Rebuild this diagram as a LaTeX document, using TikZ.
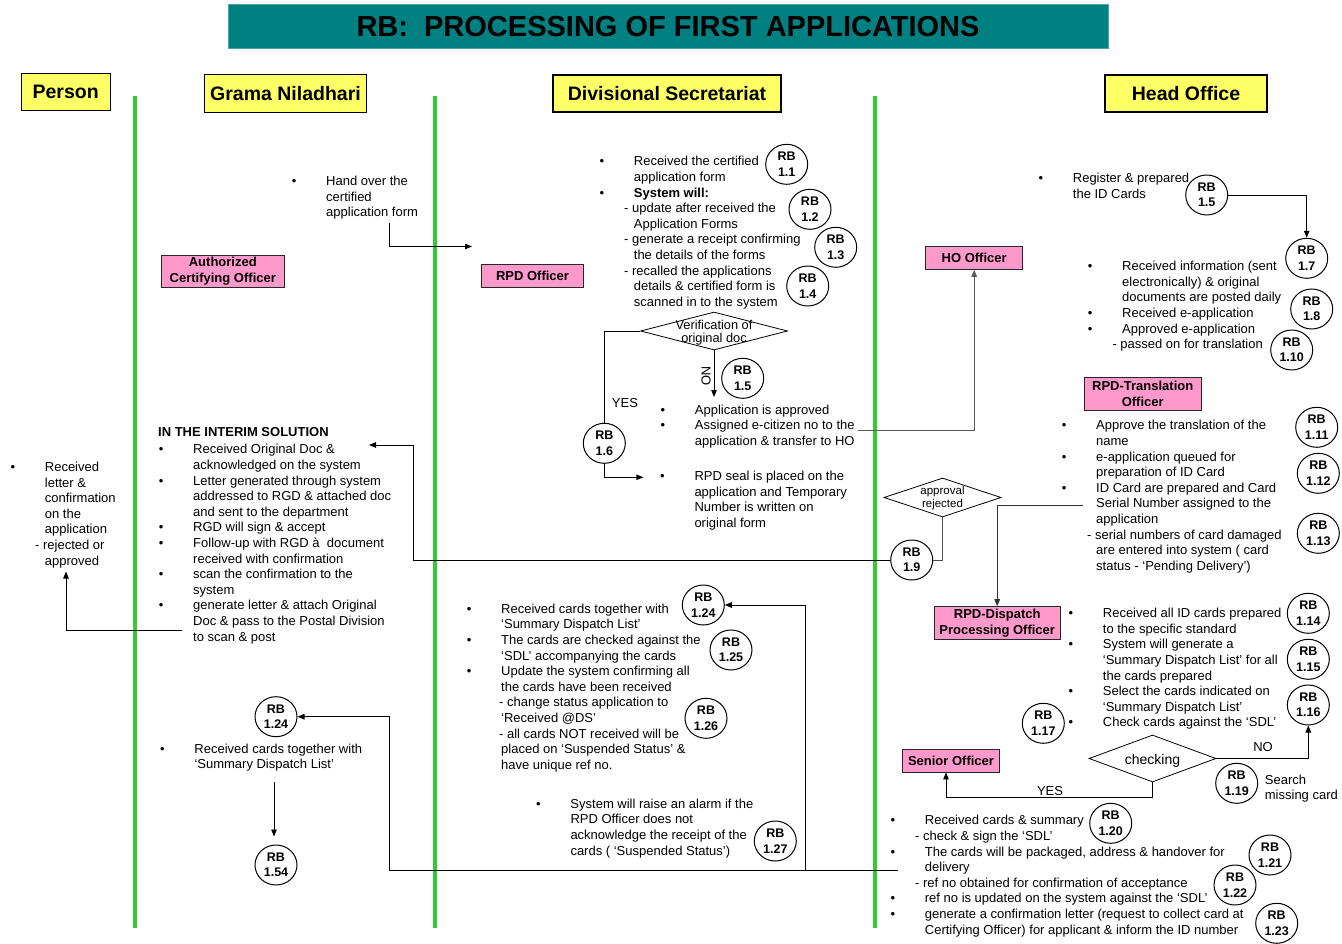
\documentclass[tikz,border=0pt]{standalone}
\usepackage{fontspec}
\setmainfont{Liberation Sans}
\usetikzlibrary{arrows.meta,shapes.geometric}

\definecolor{titleteal}{RGB}{0,128,128}
\definecolor{hdryellow}{RGB}{255,255,102}
\definecolor{rolepink}{RGB}{255,153,204}
\definecolor{lanegreen}{RGB}{51,204,51}

% bullet line, continuation line, dash line
\newcommand{\bpt}[1]{\makebox[34.3pt][l]{\textbullet}#1}
\newcommand{\bcont}[1]{\hspace*{34.3pt}#1}
\newcommand{\bdash}[2][24.6]{\hspace*{#1pt}#2}

\begin{document}
\begin{tikzpicture}[x=1pt,y=-1pt,
  lane/.style={draw=lanegreen, line width=3.3pt},
  hdr/.style={draw=black, line width=1.1pt, fill=hdryellow, inner sep=0pt,
    font=\fontsize{19.5}{22}\selectfont\bfseries},
  role/.style={draw=black!85, line width=0.9pt, fill=rolepink, inner sep=0pt,
    align=center, font=\fontsize{13}{15.7}\selectfont\bfseries},
  rb/.style={ellipse, draw=black, line width=1pt, minimum width=42pt,
    minimum height=40pt, inner sep=0pt, align=center,
    font=\fontsize{12.5}{15.5}\selectfont\bfseries},
  txt/.style={anchor=north west, align=left, inner sep=0pt,
    font=\fontsize{13}{15.6}\selectfont},
  dec/.style={diamond, draw=black, line width=0.8pt, inner sep=0pt},
  lbl/.style={inner sep=0pt, font=\fontsize{13}{15.6}\selectfont},
  ln/.style={draw=black, line width=0.9pt},
  arr/.style={ln, -{Triangle[length=7pt,width=5.5pt]}}
]
\useasboundingbox (0,0) rectangle (1342,944);

% swim lanes
\draw[lane] (135,96) -- (135,928);
\draw[lane] (435,96) -- (435,928);
\draw[lane] (875,96) -- (875,928);

% title and lane headers
\node[fill=titleteal, draw=titleteal!70!white, line width=1pt,
  minimum width=880pt, minimum height=44pt, inner sep=0pt,
  font=\fontsize{29}{32}\selectfont\bfseries, text=black]
  (title) at (668,27) {RB:\ \ PROCESSING OF FIRST APPLICATIONS};
\node[hdr, minimum width=88.7pt, minimum height=37pt] (hperson) at (65.7,92.2) {Person};
\node[hdr, minimum width=162.4pt, minimum height=37.7pt] (hgn) at (285.5,93.8) {Grama Niladhari};
\node[hdr, minimum width=228pt, minimum height=37pt] (hds) at (667,93.5) {Divisional Secretariat};
\node[hdr, minimum width=162pt, minimum height=37pt] (hho) at (1186,93.5) {Head Office};

% roles
\node[role, minimum width=123pt, minimum height=32.4pt] (aco) at (222.8,271.5) {Authorized\\Certifying Officer};
\node[role, minimum width=102pt, minimum height=23pt] (rpdo) at (532.5,276.2) {RPD Officer};
\node[role, minimum width=97pt, minimum height=23.3pt] (hoofc) at (974.2,257.7) {HO Officer};
\node[role, minimum width=116.7pt, minimum height=32.3pt] (trans) at (1142.7,393.8) {RPD-Translation\\Officer};
\node[role, minimum width=125.7pt, minimum height=32.7pt] (disp) at (997.2,623) {RPD-Dispatch\\Processing Officer};
\node[role, minimum width=97.7pt, minimum height=23pt] (senior) at (951,760.5) {Senior Officer};

% ---------- Person ----------
\node[txt] (person) at (10.4,461.8) {\bpt{Received}\\\bcont{letter \&}\\\bcont{confirmation}\\\bcont{on the}\\\bcont{application}\\\bdash{- rejected or}\\\bcont{approved}};

% ---------- Grama Niladhari ----------
\node[txt] (handover) at (291.7,176) {\bpt{Hand over the}\\\bcont{certified}\\\bcont{application form}};
\node[txt, font=\fontsize{13}{15.6}\selectfont\bfseries] (interimhd) at (158,427.5) {IN THE INTERIM SOLUTION};
\node[txt] (interim) at (158.7,444.3) {\bpt{Received Original Doc \&}\\
  \bcont{acknowledged on the system}\\
  \bpt{Letter generated through system}\\
  \bcont{addressed to RGD \& attached doc}\\
  \bcont{and sent to the department}\\
  \bpt{RGD will sign \& accept}\\
  \bpt{Follow-up with RGD à\ \ document}\\
  \bcont{received with confirmation}\\
  \bpt{scan the confirmation to the}\\
  \bcont{system}\\
  \bpt{generate letter \& attach Original}\\
  \bcont{Doc \& pass to the Postal Division}\\
  \bcont{to scan \& post}};
\node[rb] (rb124g) at (276,716.7) {RB\\1.24};
\node[txt] (gnlower) at (160,743.7) {\bpt{Received cards together with}\\\bcont{‘Summary Dispatch List’}};
\node[rb] (rb154) at (276,865) {RB\\1.54};

% ---------- Divisional Secretariat ----------
\node[txt] (dstop) at (599.4,156.3) {\bpt{Received the certified}\\
  \bcont{application form}\\
  \bpt{\textbf{System will:}}\\
  \bdash{- update after received the}\\
  \bcont{Application Forms}\\
  \bdash{- generate a receipt confirming}\\
  \bcont{the details of the forms}\\
  \bdash{- recalled the applications}\\
  \bcont{details \& certified form is}\\
  \bcont{scanned in to the system}};
\node[rb] (rb11) at (786.7,164.3) {RB\\1.1};
\node[rb] (rb12) at (810,209.3) {RB\\1.2};
\node[rb] (rb13) at (835.7,247.3) {RB\\1.3};
\node[rb] (rb14) at (807.7,286) {RB\\1.4};

\node[dec, minimum width=147pt, minimum height=38pt] (dver) at (714,331) {};
\node[inner sep=0pt, align=center, font=\fontsize{12.8}{13.2}\selectfont] (dvertxt) at (714,332.5) {Verification of\\original doc};
\node[rb] (rb15d) at (742.7,378.3) {RB\\1.5};
\node[rb] (rb16) at (604.3,443.3) {RB\\1.6};
\node[lbl] (yes1) at (625,403) {YES};
\node[lbl, rotate=-90] (no1) at (706,376) {NO};

\node[txt] (dsapprove) at (660.4,404.7) {\bpt{Application is approved}\\\bpt{Assigned e-citizen no to the}\\\bcont{application \& transfer to HO}};
\node[txt] (dsseal) at (660,471) {\bpt{RPD seal is placed on the}\\\bcont{application and Temporary}\\\bcont{Number is written on}\\\bcont{original form}};

\node[txt] (dslower) at (466.7,603.7) {\bpt{Received cards together with}\\
  \bcont{‘Summary Dispatch List’}\\
  \bpt{The cards are checked against the}\\
  \bcont{‘SDL’ accompanying the cards}\\
  \bpt{Update the system confirming all}\\
  \bcont{the cards have been received}\\
  \bdash[32.3]{- change status application to}\\
  \bcont{‘Received @DS’}\\
  \bdash[32.3]{- all cards NOT received will be}\\
  \bcont{placed on ‘Suspended Status’ \&}\\
  \bcont{have unique ref no.}};
\node[rb] (rb124d) at (703.3,605) {RB\\1.24};
\node[rb] (rb125) at (731,650) {RB\\1.25};
\node[rb] (rb126) at (706,718.3) {RB\\1.26};
\node[txt] (alarm) at (536,798.7) {\bpt{System will raise an alarm if the}\\\bcont{RPD Officer does not}\\\bcont{acknowledge the receipt of the}\\\bcont{cards ( ‘Suspended Status’)}};
\node[rb] (rb127) at (775.3,841) {RB\\1.27};

% ---------- Head Office ----------
\node[txt] (hotop) at (1038.4,173) {\bpt{Register \& prepared}\\\bcont{the ID Cards}};
\node[rb] (rb15h) at (1206.7,195) {RB\\1.5};
\node[rb] (rb17) at (1306.7,258.3) {RB\\1.7};
\node[txt] (hoinfo) at (1087.7,261) {\bpt{Received information (sent}\\
  \bcont{electronically) \& original}\\
  \bcont{documents are posted daily}\\
  \bpt{Received e-application}\\
  \bpt{Approved e-application}\\
  \bdash{- passed on for translation}};
\node[rb] (rb18) at (1311.7,309) {RB\\1.8};
\node[rb] (rb110) at (1291.7,350) {RB\\1.10};

\node[txt] (transl) at (1061.7,420.3) {\bpt{Approve the translation of the}\\
  \bcont{name}\\
  \bpt{e-application queued for}\\
  \bcont{preparation of ID Card}\\
  \bpt{ID Card are prepared and Card}\\
  \bcont{Serial Number assigned to the}\\
  \bcont{application}\\
  \bdash[25.3]{- serial numbers of card damaged}\\
  \bcont{are entered into system ( card}\\
  \bcont{status - ‘Pending Delivery’)}};
\node[rb] (rb111) at (1316.7,427.3) {RB\\1.11};
\node[rb] (rb112) at (1318.3,473.3) {RB\\1.12};
\node[rb] (rb113) at (1318.3,533.3) {RB\\1.13};

\node[dec, minimum width=117pt, minimum height=39pt] (dapr) at (942.5,497.5) {};
\node[inner sep=0pt, align=center, font=\fontsize{11.5}{13}\selectfont] (daprtxt) at (942.5,498.5) {approval\\rejected};
\node[rb] (rb19) at (911.7,560) {RB\\1.9};

\node[txt] (dispatch) at (1068.4,608) {\bpt{Received all ID cards prepared}\\
  \bcont{to the specific standard}\\
  \bpt{System will generate a}\\
  \bcont{‘Summary Dispatch List’ for all}\\
  \bcont{the cards prepared}\\
  \bpt{Select the cards indicated on}\\
  \bcont{‘Summary Dispatch List’}\\
  \bpt{Check cards against the ‘SDL’}};
\node[rb] (rb114) at (1308.3,613.3) {RB\\1.14};
\node[rb] (rb115) at (1308.3,659.3) {RB\\1.15};
\node[rb] (rb116) at (1308.3,705) {RB\\1.16};
\node[rb] (rb117) at (1043.3,723.3) {RB\\1.17};

\node[dec, minimum width=127pt, minimum height=47pt] (dchk) at (1152.5,758.5) {};
\node[inner sep=0pt, font=\fontsize{14}{16}\selectfont] (dchktxt) at (1152.5,761) {checking};
\node[lbl] (no2) at (1263,747.5) {NO};
\node[lbl] (yes2) at (1050,791) {YES};
\node[rb] (rb119) at (1236.7,783.3) {RB\\1.19};
\node[txt] (search) at (1264.7,774.7) {Search\\missing card};

\node[txt] (seniorlist) at (890.4,815.3) {\bpt{Received cards \& summary}\\
  \bdash{- check \& sign the ‘SDL’}\\
  \bpt{The cards will be packaged, address \& handover for}\\
  \bcont{delivery}\\
  \bdash{- ref no obtained for confirmation of acceptance}\\
  \bpt{ref no is updated on the system against the ‘SDL’}\\
  \bpt{generate a confirmation letter (request to collect card at}\\
  \bcont{Certifying Officer) for applicant \& inform the ID number}};
\node[rb] (rb120) at (1110.7,823.3) {RB\\1.20};
\node[rb] (rb121) at (1270,855) {RB\\1.21};
\node[rb] (rb122) at (1235,885) {RB\\1.22};
\node[rb] (rb123) at (1276.7,923.3) {RB\\1.23};

% ---------- connector ends ----------
\coordinate (hoStart) at (389,223);
\coordinate (hoTip) at (472,246.5);
\coordinate (noTip) at (714,397);
\coordinate (sealTip) at (643.3,477.3);
\coordinate (apStart) at (858,430.7);
\coordinate (trStart) at (1083,505);
\coordinate (intJog) at (413,445);
\coordinate (intTip) at (369,445);
\coordinate (glStart) at (182,630);
\coordinate (pTip) at (66,571.5);
\coordinate (gnStart) at (274,782);
\coordinate (snStart) at (898,870);
\coordinate (snLeft) at (389,870);
\coordinate (snMid) at (805,870);

% ---------- connectors ----------
\draw[arr] (hoStart) |- (hoTip);
\draw[ln] (dver.west) -| (rb16.north);
\draw[arr] (dver.south) -- (noTip);
\draw[arr] (rb16.south) |- (sealTip);
\draw[arr, draw=black!65] (apStart) -| (hoofc.south);
\draw[arr] (rb15h.east) -| (rb17.north);
\draw[arr, draw=black!80] (trStart) -| (disp.north);
\draw[ln, draw=black!70] (dapr.south) |- (rb19.east);
\draw[arr] (rb19.west) -| (intJog) -- (intTip);
\draw[arr] (glStart) -| (pTip);
\draw[arr] (gnStart) -- ([yshift=8pt]gnStart |- rb154.north);
\draw[arr] (dchk.east) -| (rb116.south);
\draw[arr] (dchk.south) -- ++(0,15) -| ([xshift=-5pt]senior.south);
\draw[arr] (snStart) -- (snLeft) |- (rb124g.east);
\draw[arr] (snMid) |- (rb124d.east);
\end{tikzpicture}
\end{document}
